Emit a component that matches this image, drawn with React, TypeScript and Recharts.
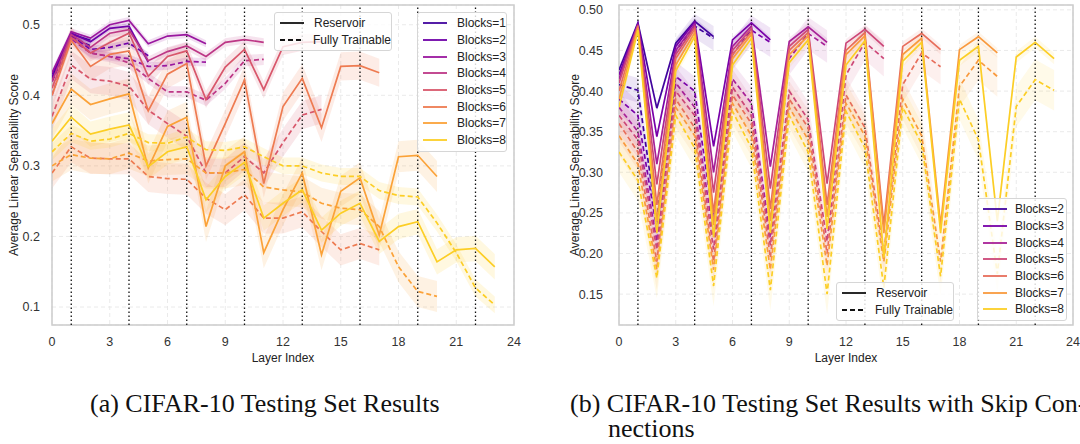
import { ComposedChart, Line, Area, XAxis, YAxis, CartesianGrid, ReferenceLine, ReferenceArea } from "recharts";

// layer index ticks and block boundaries (shared by both panels)
const X_TICKS = [0, 3, 6, 9, 12, 15, 18, 21, 24];
const BLOCK_EDGES = [1, 4, 7, 10, 13, 16, 19, 22];

// ---- panel (a): CIFAR-10 testing set ----
const leftBlocks = [1, 2, 3, 4, 5, 6, 7, 8];
const leftColors = ['#41049d', '#6f00a8', '#9a179f', '#bd3786', '#d8576b', '#ee7b51', '#fba238', '#fcce25'];

const leftReservoir = [
  [0.425, 0.487, 0.478],
  [0.43, 0.488, 0.476, 0.495, 0.498, 0.447],
  [0.432, 0.49, 0.481, 0.5, 0.506, 0.473, 0.484, 0.486, 0.473],
  [0.42, 0.486, 0.468, 0.488, 0.493, 0.449, 0.462, 0.47, 0.455, 0.475, 0.479, 0.475],
  [0.41, 0.482, 0.46, 0.475, 0.488, 0.427, 0.455, 0.463, 0.394, 0.44, 0.465, 0.408, 0.469, 0.475, 0.476],
  [0.4, 0.478, 0.441, 0.458, 0.463, 0.378, 0.43, 0.445, 0.3, 0.36, 0.422, 0.275, 0.384, 0.424, 0.354, 0.441, 0.442, 0.432],
  [0.36, 0.409, 0.387, 0.395, 0.402, 0.297, 0.356, 0.369, 0.214, 0.3, 0.32, 0.177, 0.238, 0.29, 0.174, 0.264, 0.283, 0.202, 0.313, 0.315, 0.285],
  [0.335, 0.369, 0.345, 0.352, 0.358, 0.299, 0.32, 0.327, 0.252, 0.285, 0.305, 0.226, 0.247, 0.266, 0.209, 0.233, 0.247, 0.193, 0.214, 0.221, 0.164, 0.181, 0.183, 0.157],
];

const leftTrainable = [
  [0.42, 0.483, 0.47],
  [0.425, 0.485, 0.465, 0.468, 0.474, 0.456],
  [0.42, 0.48, 0.46, 0.455, 0.452, 0.441, 0.442, 0.448, 0.447],
  [0.4, 0.483, 0.46, 0.455, 0.446, 0.424, 0.405, 0.405, 0.393, 0.417, 0.449, 0.451],
  [0.37, 0.443, 0.423, 0.42, 0.413, 0.379, 0.36, 0.342, 0.29, 0.29, 0.313, 0.29, 0.333, 0.372, 0.38],
  [0.29, 0.327, 0.311, 0.31, 0.31, 0.285, 0.282, 0.281, 0.254, 0.238, 0.259, 0.226, 0.226, 0.235, 0.207, 0.181, 0.19, 0.181],
  [0.3, 0.316, 0.311, 0.31, 0.318, 0.307, 0.309, 0.31, 0.29, 0.29, 0.295, 0.27, 0.266, 0.263, 0.247, 0.24, 0.238, 0.214, 0.157, 0.122, 0.115],
  [0.32, 0.346, 0.335, 0.338, 0.346, 0.333, 0.332, 0.341, 0.323, 0.322, 0.327, 0.313, 0.3, 0.3, 0.29, 0.285, 0.285, 0.265, 0.258, 0.256, 0.219, 0.177, 0.127, 0.103],
];

// rough std of each run (shaded band half width)
const leftReservoirStd = [0.004, 0.004, 0.005, 0.006, 0.012, 0.02, 0.022, 0.018];
const leftTrainableStd = [0.004, 0.005, 0.006, 0.008, 0.02, 0.022, 0.022, 0.012];

// ---- panel (b): with skip connections ----
const rightBlocks = [2, 3, 4, 5, 6, 7, 8];
const rightColors = ['#41049d', '#7801a8', '#a72197', '#cc4778', '#e76e5b', '#f99a3e', '#fcce25'];

const rightReservoir = [
  [0.426, 0.484, 0.379, 0.459, 0.486, 0.467],
  [0.42, 0.483, 0.344, 0.455, 0.485, 0.332, 0.463, 0.484, 0.463],
  [0.415, 0.482, 0.31, 0.45, 0.482, 0.3, 0.455, 0.48, 0.307, 0.461, 0.479, 0.46],
  [0.41, 0.481, 0.285, 0.445, 0.479, 0.275, 0.45, 0.477, 0.28, 0.455, 0.476, 0.286, 0.459, 0.476, 0.455],
  [0.4, 0.48, 0.26, 0.44, 0.476, 0.25, 0.445, 0.473, 0.255, 0.45, 0.472, 0.26, 0.45, 0.472, 0.235, 0.455, 0.471, 0.451],
  [0.39, 0.478, 0.24, 0.432, 0.472, 0.235, 0.44, 0.47, 0.24, 0.445, 0.468, 0.245, 0.445, 0.468, 0.225, 0.445, 0.465, 0.235, 0.451, 0.467, 0.447],
  [0.38, 0.475, 0.225, 0.425, 0.467, 0.22, 0.432, 0.465, 0.225, 0.435, 0.463, 0.23, 0.432, 0.462, 0.195, 0.437, 0.46, 0.225, 0.438, 0.455, 0.24, 0.442, 0.46, 0.44],
];

const rightTrainable = [
  [0.408, 0.401, 0.24, 0.45, 0.48, 0.465],
  [0.39, 0.37, 0.23, 0.418, 0.4, 0.24, 0.445, 0.475, 0.46],
  [0.38, 0.35, 0.215, 0.41, 0.38, 0.22, 0.415, 0.385, 0.22, 0.44, 0.471, 0.455],
  [0.37, 0.34, 0.205, 0.4, 0.37, 0.205, 0.405, 0.37, 0.21, 0.4, 0.365, 0.215, 0.42, 0.46, 0.44],
  [0.36, 0.325, 0.19, 0.39, 0.355, 0.19, 0.395, 0.36, 0.195, 0.39, 0.355, 0.2, 0.395, 0.355, 0.2, 0.408, 0.447, 0.43],
  [0.345, 0.31, 0.18, 0.38, 0.345, 0.18, 0.385, 0.345, 0.18, 0.38, 0.34, 0.185, 0.385, 0.345, 0.19, 0.39, 0.345, 0.19, 0.406, 0.438, 0.418],
  [0.325, 0.29, 0.17, 0.37, 0.33, 0.16, 0.375, 0.33, 0.155, 0.37, 0.325, 0.15, 0.375, 0.33, 0.158, 0.38, 0.335, 0.172, 0.39, 0.34, 0.175, 0.381, 0.414, 0.401],
];

const rightReservoirStd = [0.004, 0.004, 0.005, 0.005, 0.006, 0.006, 0.007];
const rightTrainableStd = [0.015, 0.018, 0.02, 0.022, 0.022, 0.025, 0.025];

const leftYTicks = [0.1, 0.2, 0.3, 0.4, 0.5];
const rightYTicks = [0.15, 0.2, 0.25, 0.3, 0.35, 0.4, 0.45, 0.5];

const SANS = '"Liberation Sans", Arial, sans-serif';
const SERIF = '"Liberation Serif", "DejaVu Serif", serif';

function buildRows(blocks, res, ft, resStd, ftStd) {
  const rows = [];
  for (let x = 0; x < 24; x++) {
    const row: any = { x };
    blocks.forEach((b, i) => {
      if (x < res[i].length) {
        row[`r${b}`] = res[i][x];
        row[`rb${b}`] = [res[i][x] - resStd[i], res[i][x] + resStd[i]];
      }
      if (x < ft[i].length) {
        row[`d${b}`] = ft[i][x];
        row[`db${b}`] = [ft[i][x] - ftStd[i], ft[i][x] + ftStd[i]];
      }
    });
    rows.push(row);
  }
  return rows;
}

function SepChart({ rows, blocks, colors, yDomain, yTicks, digits, width, yAxisWidth, tickMargin, marginRight, bandOpacity }) {
  return (
    <ComposedChart
      width={width}
      height={370}
      data={rows}
      margin={{ top: 5, right: marginRight, bottom: 15, left: 0 }}
    >
      <CartesianGrid stroke="#e4e4e4" strokeDasharray="4 3" strokeWidth={0.8} />
      <XAxis
        dataKey="x"
        type="number"
        domain={[0, 24]}
        ticks={X_TICKS}
        allowDataOverflow
        axisLine={false}
        tickLine={false}
        tickMargin={6}
        height={30}
        tick={{ fill: '#333', fontSize: 12.5, fontFamily: SANS }}
      />
      <YAxis
        type="number"
        domain={yDomain}
        ticks={yTicks}
        allowDataOverflow
        width={yAxisWidth}
        axisLine={false}
        tickLine={false}
        tickMargin={tickMargin}
        tickFormatter={(v) => v.toFixed(digits)}
        tick={{ fill: '#333', fontSize: 12.5, fontFamily: SANS }}
      />
      {blocks.map((b, i) => (
        <Area key={`rb${b}`} dataKey={`rb${b}`} type="linear" stroke="none" fill={colors[i]} fillOpacity={bandOpacity} isAnimationActive={false} activeDot={false} />
      ))}
      {blocks.map((b, i) => (
        <Area key={`db${b}`} dataKey={`db${b}`} type="linear" stroke="none" fill={colors[i]} fillOpacity={bandOpacity} isAnimationActive={false} activeDot={false} />
      ))}
      {BLOCK_EDGES.map((x) => (
        <ReferenceLine key={x} x={x} stroke="#111" strokeWidth={1.3} strokeDasharray="1.5 2.5" />
      ))}
      {blocks.map((b, i) => [
        <Line key={`r${b}`} dataKey={`r${b}`} type="linear" stroke={colors[i]} strokeWidth={1.7} dot={false} activeDot={false} isAnimationActive={false} />,
        <Line key={`d${b}`} dataKey={`d${b}`} type="linear" stroke={colors[i]} strokeWidth={1.7} strokeDasharray="5 3" dot={false} activeDot={false} isAnimationActive={false} />,
      ])}
      <ReferenceArea x1={0} x2={24} y1={yDomain[0]} y2={yDomain[1]} fill="none" stroke="#cccccc" strokeWidth={1.5} ifOverflow="visible" />
    </ComposedChart>
  );
}

function LineSample({ color, dashed }) {
  return (
    <svg width={24} height={6} style={{ display: 'block' }}>
      <line x1={0} y1={3} x2={24} y2={3} stroke={color} strokeWidth={1.8} strokeDasharray={dashed ? '5 3' : undefined} />
    </svg>
  );
}

function LegendBox({ left, top, width, items, rowH, textGap }) {
  return (
    <div
      style={{
        position: 'absolute', left, top, width,
        background: 'rgba(255,255,255,0.82)', border: '1px solid #d6d6d6', borderRadius: 3,
        padding: '2px 0 2px 5px', boxSizing: 'border-box', fontFamily: SANS, fontSize: 12, color: '#222',
      }}
    >
      {items.map((it) => (
        <div key={it.label} style={{ display: 'flex', alignItems: 'center', height: rowH }}>
          <LineSample color={it.color} dashed={it.dashed} />
          <span style={{ marginLeft: textGap, whiteSpace: 'nowrap' }}>{it.label}</span>
        </div>
      ))}
    </div>
  );
}

const styleItems = [
  { label: 'Reservoir', color: '#111', dashed: false },
  { label: 'Fully Trainable', color: '#111', dashed: true },
];

export default function App() {
  const leftRows = buildRows(leftBlocks, leftReservoir, leftTrainable, leftReservoirStd, leftTrainableStd);
  const rightRows = buildRows(rightBlocks, rightReservoir, rightTrainable, rightReservoirStd, rightTrainableStd);

  const yTitle = (x) => ({
    position: 'absolute' as const, left: x, top: 165, transform: 'translate(-50%, -50%) rotate(-90deg)',
    whiteSpace: 'nowrap' as const, fontFamily: SANS, fontSize: 12, color: '#222',
  });
  const xTitle = (x) => ({
    position: 'absolute' as const, left: x, top: 358, transform: 'translate(-50%, -50%)',
    whiteSpace: 'nowrap' as const, fontFamily: SANS, fontSize: 12, color: '#222',
  });
  const caption = { position: 'absolute' as const, fontFamily: SERIF, fontSize: 26, color: '#111', whiteSpace: 'nowrap' as const, lineHeight: '25px' };

  return (
    <div style={{ position: 'absolute', left: 0, top: 0, width: 1080, height: 444, background: '#fff', overflow: 'hidden' }}>
      <div style={{ position: 'absolute', left: 0, top: 0 }}>
        <SepChart
          rows={leftRows} blocks={leftBlocks} colors={leftColors}
          yDomain={[0.0745, 0.528]} yTicks={leftYTicks} digits={1}
          width={530} yAxisWidth={52} tickMargin={6} marginRight={16} bandOpacity={0.14}
        />
      </div>
      <div style={{ position: 'absolute', left: 540, top: 0 }}>
        <SepChart
          rows={rightRows} blocks={rightBlocks} colors={rightColors}
          yDomain={[0.112, 0.506]} yTicks={rightYTicks} digits={2}
          width={540} yAxisWidth={79} tickMargin={10} marginRight={7} bandOpacity={0.1}
        />
      </div>

      <div style={yTitle(14)}>Average Linear Separability Score</div>
      <div style={yTitle(575)}>Average Linear Separability Score</div>
      <div style={xTitle(283)}>Layer Index</div>
      <div style={xTitle(846)}>Layer Index</div>

      <LegendBox left={274} top={12} width={118} rowH={16.7} textGap={10} items={styleItems} />
      <LegendBox
        left={417} top={12} width={90} rowH={16.7} textGap={10}
        items={leftBlocks.map((b, i) => ({ label: `Blocks=${b}`, color: leftColors[i], dashed: false }))}
      />
      <LegendBox left={836} top={282} width={118} rowH={16.7} textGap={10} items={styleItems} />
      <LegendBox
        left={977} top={198} width={90} rowH={16.7} textGap={8}
        items={rightBlocks.map((b, i) => ({ label: `Blocks=${b}`, color: rightColors[i], dashed: false }))}
      />

      <div style={{ ...caption, left: 90, top: 391 }}>(a) CIFAR-10 Testing Set Results</div>
      <div style={{ ...caption, left: 570, top: 391 }}>
        (b) CIFAR-10 Testing Set Results with Skip Con-
        <br />
        <span style={{ paddingLeft: 38 }}>nections</span>
      </div>
    </div>
  );
}
